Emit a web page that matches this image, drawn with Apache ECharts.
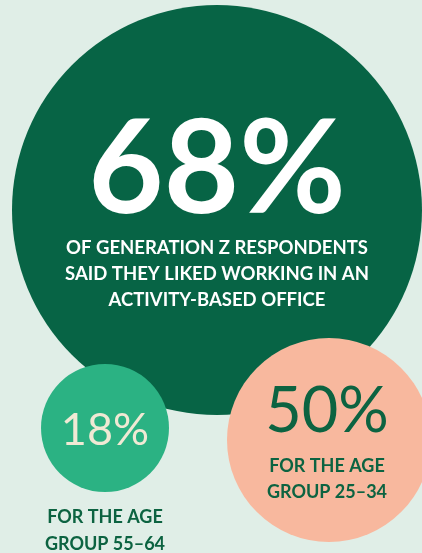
<!DOCTYPE html>
<html>
<head>
<meta charset="utf-8">
<script src="https://cdn.jsdelivr.net/npm/echarts@6/dist/echarts.min.js"></script>
<style>
  html, body { margin: 0; padding: 0; background: #e0eee7; }
  #chart { width: 422px; height: 553px; }
</style>
</head>
<body>
<div id="chart"></div>
<script>
// Survey shares who liked working in an activity-based office
const groups = ['Generation Z', 'Age 55-64', 'Age 25-34'];
const shares = [68, 18, 50];
const captions = [
  'OF GENERATION Z RESPONDENTS\nSAID THEY LIKED WORKING IN AN\nACTIVITY-BASED OFFICE',
  'FOR THE AGE\nGROUP 55–64',
  'FOR THE AGE\nGROUP 25–34'
];

// Bubble placement on a page-sized canvas (layout only)
const layout = [
  { x: 217, y: 210, d: 410, fill: '#076445', num: '#ffffff', cap: '#ffffff' },
  { x: 105, y: 428, d: 128, fill: '#2bb283', num: '#f0e9d4', cap: '#0c6341' },
  { x: 329, y: 440, d: 204, fill: '#f8b89e', num: '#0c6341', cap: '#0c6341' }
];

const FONT = 'Lato, "Open Sans", sans-serif';

const labelFor = [
  {
    offset: [0, 0],
    formatter: p => '{big|' + p.value[2] + '%}\n{sub|' + captions[0] + '}',
    rich: {
      big: { fontFamily: FONT, fontWeight: 700, fontSize: 130, lineHeight: 128, color: layout[0].num, align: 'center' },
      sub: { fontFamily: FONT, fontWeight: 700, fontSize: 18.5, lineHeight: 26, color: layout[0].cap, align: 'center' }
    }
  },
  {
    offset: [0, 51],
    formatter: p => '{pct|' + p.value[2] + '%}\n{gap| }\n{cap|' + captions[1] + '}',
    rich: {
      pct: { fontFamily: FONT, fontWeight: 400, fontSize: 45, lineHeight: 60, color: layout[1].num, align: 'center' },
      gap: { fontSize: 10, lineHeight: 43, align: 'center' },
      cap: { fontFamily: FONT, fontWeight: 700, fontSize: 18, lineHeight: 27, color: layout[1].cap, align: 'center' }
    }
  },
  {
    offset: [-2, -2],
    formatter: p => '{pct|' + p.value[2] + '%}\n{cap|' + captions[2] + '}',
    rich: {
      pct: { fontFamily: FONT, fontWeight: 400, fontSize: 63, lineHeight: 83, color: layout[2].num, align: 'center' },
      cap: { fontFamily: FONT, fontWeight: 700, fontSize: 18, lineHeight: 26, color: layout[2].cap, align: 'center' }
    }
  }
];

const data = shares.map((v, i) => ({
  name: groups[i],
  value: [layout[i].x, layout[i].y, v],
  symbolSize: layout[i].d,
  itemStyle: { color: layout[i].fill, opacity: 1 },
  label: Object.assign({ show: true, position: 'inside' }, labelFor[i])
}));

const chart = echarts.init(document.getElementById('chart'), null, { renderer: 'canvas' });
chart.setOption({
  backgroundColor: '#e0eee7',
  animation: false,
  grid: { left: 0, right: 0, top: 0, bottom: 0 },
  xAxis: { type: 'value', min: 0, max: 422, show: false },
  yAxis: { type: 'value', min: 0, max: 553, inverse: true, show: false },
  series: [{
    type: 'scatter',
    symbol: 'circle',
    data: data,
    emphasis: { disabled: true },
    clip: false
  }]
});
</script>
</body>
</html>
